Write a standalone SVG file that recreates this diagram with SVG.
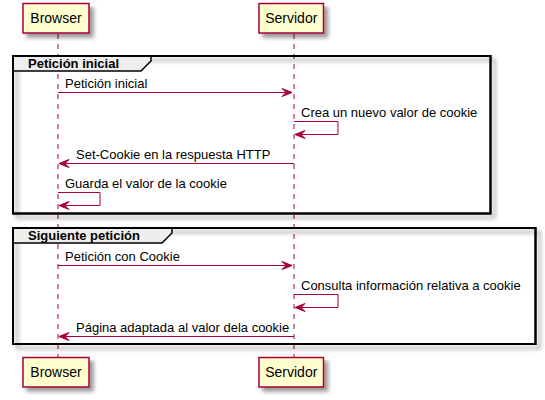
<svg xmlns="http://www.w3.org/2000/svg" width="545" height="400" viewBox="0 0 545 400">
<defs>
<filter id="sh" x="-5%" y="-5%" width="120%" height="130%">
<feGaussianBlur in="SourceAlpha" stdDeviation="2" result="b"/>
<feColorMatrix in="b" type="matrix" values="0 0 0 0 0  0 0 0 0 0  0 0 0 0 0  0 0 0 0.4 0" result="c"/>
<feOffset in="c" dx="4" dy="4" result="o"/>
<feBlend in="SourceGraphic" in2="o" mode="normal"/>
</filter>
</defs>
<style>
.part{fill:#FEFECE;stroke:#A80036;stroke-width:1.5}
.pt{font-family:"Liberation Sans",Arial,sans-serif;font-size:14px;fill:#000}
.life{stroke:#A80036;stroke-width:1;stroke-dasharray:5,5;fill:none}
.frame{fill:none;stroke:#000;stroke-width:2}
.tab{fill:#EEEEEE;stroke:#000;stroke-width:1.5}
.ft{font-family:"Liberation Sans",Arial,sans-serif;font-size:13px;font-weight:bold;fill:#000}
.msg{stroke:#A80036;stroke-width:1;fill:none}
.head{fill:#A80036;stroke:#A80036;stroke-width:1}
.mt{font-family:"Liberation Sans",Arial,sans-serif;font-size:13px;fill:#000}
</style>
<rect width="545" height="400" fill="#FFFFFF"/>
<g id="lifelines">
<line class="life" x1="58" y1="34" x2="58" y2="357"/>
<line class="life" x1="294" y1="34" x2="294" y2="357"/>
</g>
<g id="frame-peticion-inicial">
<rect class="frame" x="13" y="56" width="477.5" height="157.5" filter="url(#sh)"/>
<polygon class="tab" points="13,56 151,56 151,61 141,71 13,71"/>
<rect class="frame" x="13" y="56" width="477.5" height="157.5"/>
<text class="ft" x="28" y="68">Petición inicial</text>
</g>
<g id="frame-siguiente-peticion">
<rect class="frame" x="13" y="228" width="522.5" height="116" filter="url(#sh)"/>
<polygon class="tab" points="13,228 172,228 172,233 162,243 13,243"/>
<rect class="frame" x="13" y="228" width="522.5" height="116"/>
<text class="ft" x="28" y="240">Siguiente petición</text>
</g>
<g id="browser-top">
<rect class="part" x="23" y="3.5" width="66" height="29.5" filter="url(#sh)"/>
<text class="pt" x="56" y="23" text-anchor="middle">Browser</text>
</g>
<g id="servidor-top">
<rect class="part" x="259" y="3.5" width="64.5" height="29.5" filter="url(#sh)"/>
<text class="pt" x="291.3" y="23" text-anchor="middle">Servidor</text>
</g>
<g id="browser-bottom">
<rect class="part" x="23" y="357.5" width="66" height="29.5" filter="url(#sh)"/>
<text class="pt" x="56" y="377" text-anchor="middle">Browser</text>
</g>
<g id="servidor-bottom">
<rect class="part" x="259" y="357.5" width="64.5" height="29.5" filter="url(#sh)"/>
<text class="pt" x="291.3" y="377" text-anchor="middle">Servidor</text>
</g>
<g id="connectors">
<line class="msg" x1="58" y1="92.5" x2="292" y2="92.5"/>
<polygon class="head" points="282,88.5 292,92.5 282,96.5 286,92.5"/>
<text class="mt" x="65" y="88">Petición inicial</text>

<polyline class="msg" points="294,121.5 338,121.5 338,134.5 296,134.5"/>
<polygon class="head" points="305,130.5 295,134.5 305,138.5 301,134.5"/>
<text class="mt" x="301" y="117">Crea un nuevo valor de cookie</text>

<line class="msg" x1="60" y1="163.5" x2="294" y2="163.5"/>
<polygon class="head" points="69,159.5 59,163.5 69,167.5 65,163.5"/>
<text class="mt" x="76" y="159">Set-Cookie en la respuesta HTTP</text>

<polyline class="msg" points="58,192.5 100,192.5 100,205.5 60,205.5"/>
<polygon class="head" points="69,201.5 59,205.5 69,209.5 65,205.5"/>
<text class="mt" x="65" y="188">Guarda el valor de la cookie</text>

<line class="msg" x1="58" y1="265.5" x2="292" y2="265.5"/>
<polygon class="head" points="282,261.5 292,265.5 282,269.5 286,265.5"/>
<text class="mt" x="65" y="261">Petición con Cookie</text>

<polyline class="msg" points="294,294.5 338,294.5 338,307.5 296,307.5"/>
<polygon class="head" points="305,303.5 295,307.5 305,311.5 301,307.5"/>
<text class="mt" x="301" y="290">Consulta información relativa a cookie</text>

<line class="msg" x1="60" y1="336.5" x2="294" y2="336.5"/>
<polygon class="head" points="69,332.5 59,336.5 69,340.5 65,336.5"/>
<text class="mt" x="76" y="332">Página adaptada al valor dela cookie</text>
</g>
</svg>
